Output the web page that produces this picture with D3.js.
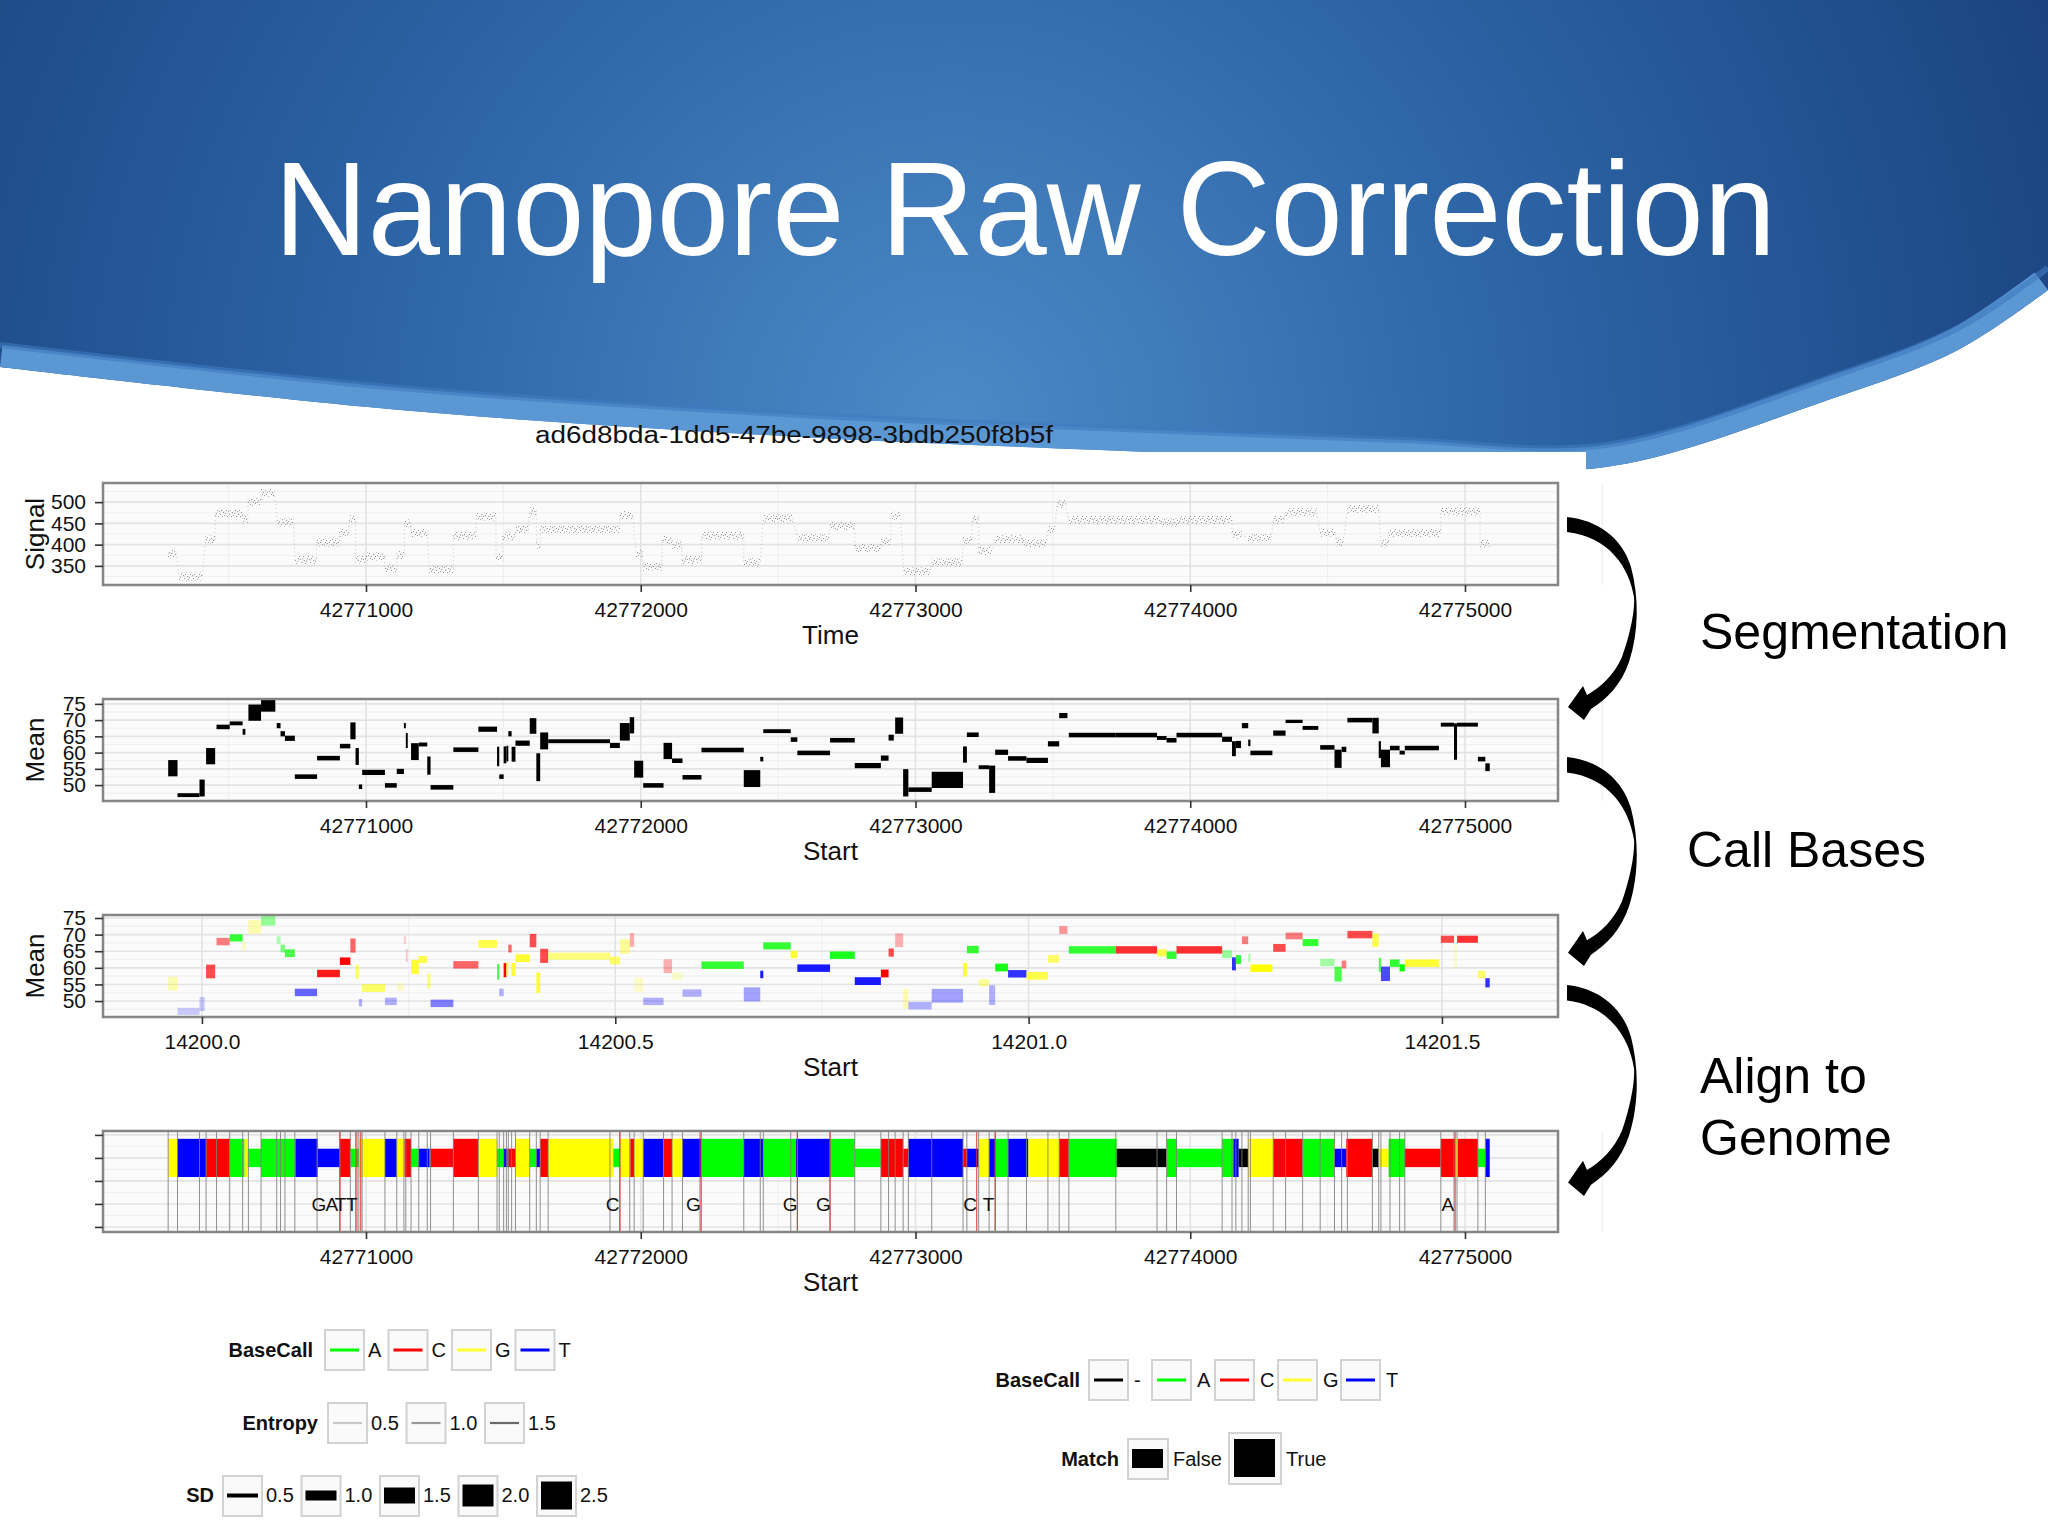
<!DOCTYPE html>
<html><head><meta charset="utf-8">
<script src="https://cdn.jsdelivr.net/npm/d3@7"></script>
<style>body{margin:0;background:#fff}svg{display:block}</style>
</head><body>
<svg id="c" width="2048" height="1536"></svg>
<script>
// ---------------- DATA ----------------
const slideTitle = "Nanopore Raw Correction";
const readId = "ad6d8bda-1dd5-47be-9898-3bdb250f8b5f";
const stepLabels = [["Segmentation"], ["Call Bases"], ["Align to", "Genome"]];

const sampleTicks = [42771000, 42772000, 42773000, 42774000, 42775000];
const sampleMinor = [42770500, 42771500, 42772500, 42773500, 42774500, 42775500];
const timeTicks = [14200.0, 14200.5, 14201.0, 14201.5];
const timeMinor = [14200.25, 14200.75, 14201.25];
const signalTicks = [350, 400, 450, 500];
const signalMinor = [325, 375, 425, 475, 525];
const meanTicks = [50, 55, 60, 65, 70, 75];
const meanMinor = [47.5, 52.5, 57.5, 62.5, 67.5, 72.5];
const alignTicks = [1, 2, 3, 4, 5];
const alignMinor = [1.5, 2.5, 3.5, 4.5];

// raw signal runs: [start, end, level]
const signalRuns = [
 [42770280,42770309,380],[42770320,42770404,325],[42770416,42770451,412],[42770451,42770551,474],
 [42770551,42770570,458],[42770570,42770618,500],[42770618,42770666,522],[42770678,42770737,452],
 [42770741,42770820,364],[42770820,42770903,405],[42770903,42770938,428],[42770938,42770962,460],
 [42770962,42770998,365],[42770998,42771069,372],[42771069,42771112,344],[42771112,42771140,376],
 [42771140,42771164,450],[42771164,42771223,427],[42771230,42771318,342],[42771318,42771401,421],
 [42771401,42771473,466],[42771473,42771496,370],[42771496,42771544,419],[42771544,42771591,435],
 [42771596,42771620,478],[42771620,42771634,400],[42771634,42771924,437],[42771924,42771971,470],
 [42771983,42772007,380],[42772007,42772078,348],[42772078,42772114,411],[42772114,42772150,400],
 [42772150,42772221,364],[42772221,42772375,421],[42772375,42772435,358],[42772446,42772553,462],
 [42772570,42772684,415],[42772689,42772779,444],[42772779,42772874,392],[42772874,42772910,407],
 [42772910,42772945,468],[42772957,42773052,337],[42773059,42773171,358],[42773173,42773206,410],
 [42773206,42773230,458],[42773230,42773278,385],[42773290,42773392,413],[42773392,42773475,403],
 [42773482,42773506,435],[42773516,42773546,496],[42773558,42773891,458],[42773891,42773962,452],
 [42773962,42774152,458],[42774152,42774188,423],[42774211,42774295,415],[42774302,42774342,458],
 [42774347,42774461,476],[42774473,42774527,428],[42774532,42774556,405],[42774572,42774686,484],
 [42774694,42774722,403],[42774722,42774912,427],[42774912,42775055,478],[42775055,42775090,402]
];

// segments: [start, end, mean, sd, baseCall, confidence]
const segments = [
 [42770280,42770314,55.2,2.5,"G",0.3],[42770314,42770394,46.9,0.6,"T",0.2],[42770394,42770413,49.1,2.6,"T",0.2],
 [42770418,42770451,58.9,2.5,"C",0.7],[42770456,42770504,67.9,0.7,"C",0.5],[42770504,42770551,69.0,0.6,"A",0.8],
 [42770551,42770561,66.4,0.9,"G",0.3],[42770572,42770618,72.3,2.5,"G",0.3],[42770618,42770670,74.4,1.8,"A",0.4],
 [42770675,42770689,68.3,0.8,"A",0.3],[42770689,42770705,65.8,0.8,"A",0.5],[42770705,42770741,64.4,0.8,"A",0.7],
 [42770741,42770822,52.6,0.7,"T",0.6],[42770822,42770905,58.3,0.7,"C",0.9],[42770905,42770943,62.0,0.7,"C",1],
 [42770943,42770962,66.7,2.6,"C",0.6],[42770962,42770974,58.8,2.6,"G",0.6],[42770974,42770986,49.5,0.7,"T",0.3],
 [42770986,42771069,53.9,0.8,"G",0.6],[42771069,42771112,49.9,0.7,"T",0.3],[42771112,42771138,54.2,0.8,"G",0.2],
 [42771138,42771145,68.3,0.8,"C",0.2],[42771145,42771152,63.7,2.3,"C",0.2],[42771164,42771192,60.3,2.6,"G",0.8],
 [42771192,42771223,62.5,0.6,"G",0.7],[42771223,42771235,56.0,2.8,"G",0.5],[42771235,42771318,49.3,0.7,"T",0.5],
 [42771318,42771409,60.9,0.7,"C",0.6],[42771409,42771477,67.2,0.8,"G",0.7],[42771477,42771485,58.8,3.0,"A",0.7],
 [42771485,42771501,52.6,0.7,"T",0.3],[42771501,42771511,59.3,2.6,"C",1],[42771511,42771518,59.7,2.4,"G",0.8],
 [42771518,42771530,65.8,0.8,"C",0.6],[42771530,42771544,59.5,2.3,"G",0.8],[42771544,42771596,62.9,0.8,"G",0.8],
 [42771596,42771620,68.2,2.4,"C",0.7],[42771620,42771634,55.5,4.3,"G",0.8],[42771634,42771663,63.6,2.6,"C",0.7],
 [42771663,42771888,63.5,0.6,"G",0.5],[42771888,42771924,62.2,0.8,"G",0.6],[42771924,42771960,66.4,2.7,"G",0.4],
 [42771960,42771976,68.4,2.5,"C",0.3],[42771976,42772009,54.9,2.6,"G",0.2],[42772009,42772083,49.9,0.7,"T",0.3],
 [42772083,42772114,60.5,2.5,"C",0.3],[42772114,42772152,57.5,0.7,"G",0.2],[42772152,42772221,52.4,0.7,"T",0.3],
 [42772221,42772375,60.8,0.7,"A",0.8],[42772375,42772435,52.0,2.6,"T",0.35],[42772435,42772446,58.0,0.7,"T",0.9],
 [42772446,42772546,66.6,0.6,"A",0.8],[42772546,42772570,64.0,0.7,"G",0.8],[42772570,42772689,59.9,0.7,"T",0.9],
 [42772689,42772779,63.8,0.7,"A",0.9],[42772779,42772874,56.0,0.8,"T",0.9],[42772874,42772902,58.3,0.8,"C",1],
 [42772902,42772921,64.6,0.9,"C",0.7],[42772926,42772955,68.3,2.5,"C",0.3],[42772955,42772974,50.7,4.2,"G",0.3],
 [42772974,42773059,48.6,0.7,"T",0.3],[42773059,42773173,51.6,2.5,"T",0.35],[42773173,42773187,59.4,2.5,"G",0.8],
 [42773187,42773230,65.5,0.7,"A",0.8],[42773230,42773268,55.5,0.6,"G",0.4],[42773268,42773290,51.8,4.2,"T",0.3],
 [42773290,42773337,60.1,0.8,"A",0.9],[42773337,42773404,58.2,0.7,"T",0.8],[42773404,42773482,57.6,0.8,"G",0.7],
 [42773482,42773523,62.7,0.8,"G",0.6],[42773523,42773553,71.4,0.8,"C",0.4],[42773558,42773729,65.4,0.7,"A",0.8],
 [42773729,42773879,65.4,0.7,"C",0.8],[42773879,42773914,64.5,0.6,"G",0.7],[42773914,42773950,63.8,0.7,"A",0.8],
 [42773950,42774116,65.4,0.7,"C",0.8],[42774116,42774152,64.1,0.8,"A",0.4],[42774152,42774166,61.2,2.3,"T",0.8],
 [42774166,42774185,62.5,1.1,"A",0.8],[42774188,42774211,68.3,0.8,"C",0.5],[42774211,42774219,63.0,1.0,"A",0.3],
 [42774219,42774299,59.9,0.7,"G",1],[42774302,42774347,66.0,0.8,"C",0.7],[42774347,42774409,69.6,0.5,"C",0.5],
 [42774409,42774466,67.6,0.6,"A",0.8],[42774473,42774525,61.6,0.7,"A",0.35],[42774525,42774551,58.1,2.8,"A",0.7],
 [42774551,42774568,61.0,0.8,"C",0.5],[42774572,42774663,70.0,0.7,"C",0.7],[42774663,42774686,68.3,2.4,"G",0.7],
 [42774686,42774694,60.9,2.6,"A",0.7],[42774694,42774727,58.2,2.7,"T",0.7],[42774727,42774762,61.4,0.7,"A",0.8],
 [42774762,42774781,60.0,0.6,"A",1],[42774781,42774905,61.4,0.7,"G",0.8],[42774912,42774960,68.6,0.6,"C",0.7],
 [42774960,42774971,63.4,5.6,"G",0.2],[42774971,42775047,68.6,0.6,"C",0.8],[42775047,42775074,58.0,0.7,"G",0.6],
 [42775074,42775090,55.5,1.2,"T",0.8]
];

// alignment to genome: [start, end, base, match]
const alignBands = [
 [42770280,42770314,"G",true],[42770314,42770418,"T",true],[42770418,42770504,"C",true],[42770504,42770558,"A",true],
 [42770558,42770570,"G",true],[42770570,42770618,"A",false],[42770618,42770743,"A",true],[42770743,42770824,"T",true],
 [42770824,42770905,"T",false],[42770905,42770943,"C",true],[42770943,42770974,"A",false],[42770974,42771069,"G",true],
 [42771069,42771112,"T",true],[42771112,42771140,"G",true],[42771140,42771164,"C",true],[42771164,42771192,"A",false],
 [42771192,42771230,"T",false],[42771230,42771318,"C",false],[42771318,42771409,"C",true],[42771409,42771477,"G",true],
 [42771477,42771501,"A",false],[42771501,42771515,"T",false],[42771515,42771544,"C",false],[42771544,42771596,"G",true],
 [42771596,42771620,"A",false],[42771620,42771634,"T",false],[42771634,42771663,"C",true],[42771663,42771900,"G",true],
 [42771900,42771924,"A",false],[42771924,42771962,"G",true],[42771962,42771976,"C",true],[42771976,42772009,"G",true],
 [42772009,42772083,"T",true],[42772083,42772114,"C",true],[42772114,42772152,"G",true],[42772152,42772221,"T",true],
 [42772221,42772375,"A",true],[42772375,42772446,"T",true],[42772446,42772565,"A",true],[42772565,42772689,"T",true],
 [42772689,42772779,"A",true],[42772779,42772874,"A",false],[42772874,42772955,"C",true],[42772955,42772974,"C",false],
 [42772974,42773173,"T",true],[42773173,42773187,"C",false],[42773187,42773230,"T",false],[42773230,42773268,"G",true],
 [42773268,42773290,"T",true],[42773290,42773337,"A",true],[42773337,42773411,"T",true],[42773411,42773523,"G",true],
 [42773523,42773558,"C",true],[42773558,42773732,"A",true],[42773732,42773914,"-",false],[42773914,42773952,"A",true],
 [42773952,42774116,"A",false],[42774116,42774157,"A",true],[42774157,42774176,"T",true],[42774176,42774211,"-",false],
 [42774211,42774302,"G",true],[42774302,42774409,"C",true],[42774409,42774525,"A",true],[42774525,42774568,"T",false],
 [42774568,42774663,"C",true],[42774663,42774686,"-",false],[42774686,42774722,"G",false],[42774722,42774781,"A",true],
 [42774781,42774912,"C",false],[42774912,42774964,"C",true],[42774964,42774974,"G",true],[42774974,42775047,"C",true],
 [42775047,42775074,"A",false],[42775074,42775090,"T",true]
];
const mismatchLines = [42770905,42770967,42770981,42771924,42772216,42772570,42772689,42773223,42773290,42774964];
const genomeLetters = [[42770829,"G"],[42770876,"A"],[42770907,"T"],[42770948,"T"],[42771898,"C"],[42772192,"G"],
 [42772544,"G"],[42772665,"G"],[42773199,"C"],[42773266,"T"],[42774938,"A"]];

// legends
const baseCallKeys = ["A","C","G","T"];
const entropyKeys = [0.5, 1.0, 1.5];
const sdKeys = [0.5, 1.0, 1.5, 2.0, 2.5];
const alignKeys = ["-","A","C","G","T"];
const matchKeys = ["False","True"];

// ---------------- STYLE / LAYOUT ----------------
const FONT = "'Liberation Sans', Arial, Helvetica, sans-serif";
const baseColor = {"-":"#000000","A":"#00ff00","C":"#ff0000","G":"#ffff00","T":"#0000ff"};
const entropyColor = d3.scaleLinear().domain([0.5,1.5]).range(["#c8c8c8","#6a6a6a"]);
const X0 = 103, X1 = 1558;
const P1 = [483,585], P2 = [699,801], P3 = [915,1017], P4 = [1131,1232];

const svg = d3.select("#c");
const defs = svg.append("defs");

// ---------------- BACKGROUND ----------------
const rg = defs.append("radialGradient").attr("id","bg").attr("gradientUnits","userSpaceOnUse")
  .attr("cx",950).attr("cy",420).attr("r",1300);
rg.append("stop").attr("offset",0).attr("stop-color","#4c89c7");
rg.append("stop").attr("offset",0.45).attr("stop-color","#2c64a5");
rg.append("stop").attr("offset",1).attr("stop-color","#173c78");

svg.append("rect").attr("width",2048).attr("height",1536).attr("fill","#fff");
const bgPts = [[0,367],[400,410],[800,437],[1100,450],[1400,462],[1606,467],[1828,400],[1958,350],[2048,290]];
const cr = d3.line().curve(d3.curveCatmullRom.alpha(0.5));
const bluePath = "M0,0H2048" + cr(bgPts.slice().reverse()).replace(/^M/,"L") + "Z";
defs.append("clipPath").attr("id","blueClip").append("path").attr("d",bluePath);
svg.append("path").attr("d",bluePath).attr("fill","url(#bg)");
svg.append("path").attr("d",cr(bgPts)).attr("fill","none").attr("stroke","#5b97d3")
  .attr("stroke-width",44).attr("clip-path","url(#blueClip)");
svg.append("path").attr("d",cr(bgPts.map(p=>[p[0],p[1]-22]))).attr("fill","none").attr("stroke","#3f7cc0")
  .attr("stroke-width",6).attr("opacity",0.6).attr("clip-path","url(#blueClip)");

svg.append("text").attr("x",274).attr("y",255).attr("fill","#fff")
  .attr("font-family",FONT).attr("font-size",133).attr("textLength",1502).attr("lengthAdjust","spacingAndGlyphs")
  .text(slideTitle);

svg.append("text").attr("x",535).attr("y",443).attr("fill","#111")
  .attr("font-family",FONT).attr("font-size",23).attr("textLength",518).attr("lengthAdjust","spacingAndGlyphs")
  .text(readId);

svg.append("rect").attr("x",0).attr("y",452).attr("width",1586).attr("height",1084).attr("fill","#fff");

// ---------------- SCALES ----------------
const xS = d3.scaleLinear().domain([42770042.8, 42775338.5]).range([X0, X1]);
const xT = d3.scaleLinear().domain([14199.8803, 14201.6404]).range([X0, X1]);
const ySig = d3.scaleLinear().domain([305,545]).range([P1[1],P1[0]]);
const yM2 = d3.scaleLinear().domain([45.1,76.5]).range([P2[1],P2[0]]);
const yM3 = d3.scaleLinear().domain([45.2,75.9]).range([P3[1],P3[0]]);
const yAl = d3.scaleLinear().domain([0.78,5.17]).range([P4[1],P4[0]]);
const sdPx2 = d3.scaleLinear().domain([0,2.5]).range([0,16.25]);
const sdPx3 = d3.scaleLinear().domain([0,2.5]).range([5,13.75]);
const matchH = d3.scaleOrdinal().domain([true,false]).range([0.83,0.4]);

// ---------------- PANEL HELPERS ----------------
function panelBg(P, x, xMaj, xMin, y, yMaj, yMin){
  const g = svg.append("g");
  g.append("rect").attr("x",X0).attr("y",P[0]).attr("width",X1-X0).attr("height",P[1]-P[0]).attr("fill","#fbfbfc");
  g.selectAll(null).data(yMin).join("line").attr("x1",X0).attr("x2",X1)
    .attr("y1",d=>y(d)).attr("y2",d=>y(d)).attr("stroke","#f0f0f2").attr("stroke-width",1.2);
  g.selectAll(null).data(xMin).join("line").attr("y1",P[0]).attr("y2",P[1])
    .attr("x1",d=>x(d)).attr("x2",d=>x(d)).attr("stroke","#f0f0f2").attr("stroke-width",1.2);
  g.selectAll(null).data(yMaj).join("line").attr("x1",X0).attr("x2",X1)
    .attr("y1",d=>y(d)).attr("y2",d=>y(d)).attr("stroke","#e3e3e6").attr("stroke-width",1.6);
  g.selectAll(null).data(xMaj).join("line").attr("y1",P[0]).attr("y2",P[1])
    .attr("x1",d=>x(d)).attr("x2",d=>x(d)).attr("stroke","#e3e3e6").attr("stroke-width",1.6);
  return g;
}
function panelBorder(P){
  svg.append("rect").attr("x",X0).attr("y",P[0]).attr("width",X1-X0).attr("height",P[1]-P[0])
    .attr("fill","none").attr("stroke","#858585").attr("stroke-width",2.5);
}
function styleAxis(g){
  g.select(".domain").remove();
  g.selectAll(".tick line").attr("stroke","#333").attr("stroke-width",1.6);
  g.selectAll(".tick text").attr("font-family",FONT).attr("font-size",21).attr("fill","#111");
}
function axes(P, x, xTicks, fmt, y, yTicks, showY, xTitle, yTitle){
  const gx = svg.append("g").attr("transform",`translate(0,${P[1]})`)
    .call(d3.axisBottom(x).tickValues(xTicks).tickFormat(fmt).tickSize(7).tickPadding(10).tickSizeOuter(0));
  styleAxis(gx);
  const gy = svg.append("g").attr("transform",`translate(${X0},0)`)
    .call(d3.axisLeft(y).tickValues(yTicks).tickFormat(showY ? d3.format("d") : "").tickSize(8).tickPadding(9).tickSizeOuter(0));
  styleAxis(gy);
  svg.append("text").attr("x",(X0+X1)/2).attr("y",P[1]+59).attr("text-anchor","middle")
    .attr("font-family",FONT).attr("font-size",26).attr("fill","#111").text(xTitle);
  if (yTitle) svg.append("text").attr("transform",`translate(44,${(P[0]+P[1])/2}) rotate(-90)`)
    .attr("text-anchor","middle").attr("font-family",FONT).attr("font-size",26).attr("fill","#111").text(yTitle);
}

// ---------------- PANEL 1: raw signal ----------------
const pat = defs.append("pattern").attr("id","noise").attr("patternUnits","userSpaceOnUse").attr("width",9).attr("height",8);
[[0,1],[2,4],[4,2],[5,6],[7,0],[8,3],[3,7],[6,4],[1,6]].forEach(p=>
  pat.append("rect").attr("x",p[0]).attr("y",p[1]).attr("width",1).attr("height",1).attr("fill","#9a9a9a"));
panelBg(P1, xS, sampleTicks, sampleMinor, ySig, signalTicks, signalMinor);
const sigPts = [];
signalRuns.forEach(r => { sigPts.push([r[0], r[2]]); sigPts.push([r[1], r[2]]); });
svg.append("path").attr("d", d3.line().x(d=>xS(d[0])).y(d=>ySig(d[1]))(sigPts))
  .attr("fill","none").attr("stroke","#c4c4c4").attr("stroke-width",1).attr("stroke-dasharray","1,3");
svg.append("g").selectAll("rect").data(signalRuns).join("rect")
  .attr("x",d=>xS(d[0])).attr("width",d=>xS(d[1])-xS(d[0]))
  .attr("y",d=>ySig(d[2])-4).attr("height",8).attr("fill","url(#noise)");
panelBorder(P1);
axes(P1, xS, sampleTicks, d3.format("d"), ySig, signalTicks, true, "Time", "Signal");

// ---------------- PANEL 2: segment means ----------------
panelBg(P2, xS, sampleTicks, sampleMinor, yM2, meanTicks, meanMinor);
svg.append("g").selectAll("rect").data(segments).join("rect")
  .attr("x",d=>xS(d[0])).attr("width",d=>Math.max(1.5,xS(d[1])-xS(d[0])))
  .attr("y",d=>yM2(d[2])-sdPx2(d[3])/2).attr("height",d=>sdPx2(d[3])).attr("fill","#000");
panelBorder(P2);
axes(P2, xS, sampleTicks, d3.format("d"), yM2, meanTicks, true, "Start", "Mean");

// ---------------- PANEL 3: base calls ----------------
panelBg(P3, xT, timeTicks, timeMinor, yM3, meanTicks, meanMinor);
svg.append("g").selectAll("rect").data(segments).join("rect")
  .attr("x",d=>xS(d[0])).attr("width",d=>Math.max(1.5,xS(d[1])-xS(d[0])))
  .attr("y",d=>yM3(d[2])-sdPx3(d[3])/2).attr("height",d=>sdPx3(d[3]))
  .attr("fill",d=>baseColor[d[4]]).attr("fill-opacity",d=>d[5]);
panelBorder(P3);
axes(P3, xT, timeTicks, d3.format(".1f"), yM3, meanTicks, true, "Start", "Mean");

// ---------------- PANEL 4: alignment ----------------
panelBg(P4, xS, sampleTicks, sampleMinor, yAl, alignTicks, alignMinor);
svg.append("g").selectAll("rect").data(alignBands).join("rect")
  .attr("x",d=>xS(d[0])).attr("width",d=>xS(d[1])-xS(d[0]))
  .attr("y",d=>yAl(4+matchH(d[3]))).attr("height",d=>yAl(4-matchH(d[3]))-yAl(4+matchH(d[3])))
  .attr("fill",d=>baseColor[d[2]]);
svg.append("g").selectAll("line").data(segments).join("line")
  .attr("x1",d=>xS(d[0])).attr("x2",d=>xS(d[0])).attr("y1",P4[0]).attr("y2",P4[1])
  .attr("stroke","#7e7e7e").attr("stroke-width",1).attr("opacity",0.85);
svg.append("g").selectAll("line").data(mismatchLines).join("line")
  .attr("x1",d=>xS(d)).attr("x2",d=>xS(d)).attr("y1",P4[0]).attr("y2",P4[1])
  .attr("stroke","#e03030").attr("stroke-width",1);
svg.append("g").selectAll("text").data(genomeLetters).join("text")
  .attr("x",d=>xS(d[0])).attr("y",yAl(2)+7).attr("text-anchor","middle")
  .attr("font-family",FONT).attr("font-size",19).attr("fill","#111").text(d=>d[1]);
panelBorder(P4);
axes(P4, xS, sampleTicks, d3.format("d"), yAl, alignTicks, false, "Start", null);

// ---------------- ARROWS ----------------
function arrowPath(x0,y0,k){
  const p = (dx,dy)=>`${x0+dx},${y0+dy*k}`;
  return `M${p(0,0)} C${p(30,3)} ${p(55,20)} ${p(64,50)}`+
    ` C${p(72,80)} ${p(72,115)} ${p(62,145)}`+
    ` C${p(54,168)} ${p(40,182)} ${p(24,192)}`+
    ` L${p(17,203)} L${p(1,190)} L${p(16,169)} L${p(20,178)}`+
    ` C${p(34,170)} ${p(47,158)} ${p(55,140)}`+
    ` C${p(64,115)} ${p(68,92)} ${p(67,80)}`+
    ` C${p(62,50)} ${p(42,20)} ${p(0,15)} Z`;
}
[[517,1.0],[757,1.03],[985,1.04]].forEach(a => svg.append("path").attr("d",arrowPath(1567,a[0],a[1])).attr("fill","#000"));

// step labels
const stepPos = [[1700,649],[1687,867],[1700,1093]];
stepLabels.forEach((lines,i)=>{
  lines.forEach((t,j)=> svg.append("text").attr("x",stepPos[i][0]).attr("y",stepPos[i][1]+j*62)
    .attr("font-family",FONT).attr("font-size",50).attr("fill","#000").text(t));
});

// ---------------- LEGENDS ----------------
function keyBox(x,y,w,h){
  svg.append("rect").attr("x",x).attr("y",y).attr("width",w).attr("height",h)
    .attr("fill","#fafafa").attr("stroke","#d2d2d2").attr("stroke-width",2);
}
function ltext(x,y,t,bold,anchor){
  svg.append("text").attr("x",x).attr("y",y+7).attr("text-anchor",anchor||"start")
    .attr("font-family",FONT).attr("font-size",20).attr("font-weight",bold?"bold":"normal")
    .attr("fill","#111").text(t);
}
// BaseCall (left)
ltext(313,1350,"BaseCall",true,"end");
baseCallKeys.forEach((k,i)=>{ const x=325+i*63.5; keyBox(x,1330,39,40);
  svg.append("line").attr("x1",x+5).attr("x2",x+34).attr("y1",1350).attr("y2",1350)
    .attr("stroke",baseColor[k]==="#ffff00"?"#ffff33":baseColor[k]).attr("stroke-width",3);
  ltext(x+43,1350,k); });
// Entropy
ltext(318,1423,"Entropy",true,"end");
entropyKeys.forEach((k,i)=>{ const x=328+i*78.5; keyBox(x,1403,39,40);
  svg.append("line").attr("x1",x+5).attr("x2",x+34).attr("y1",1423).attr("y2",1423)
    .attr("stroke",entropyColor(k)).attr("stroke-width",2.2);
  ltext(x+43,1423,d3.format(".1f")(k)); });
// SD
const sdLeg = d3.scaleLinear().domain([0.5,2.5]).range([4,28]);
ltext(214,1495,"SD",true,"end");
sdKeys.forEach((k,i)=>{ const x=223+i*78.5; keyBox(x,1476,39,40);
  svg.append("rect").attr("x",x+4).attr("width",31).attr("y",1495.5-sdLeg(k)/2).attr("height",sdLeg(k)).attr("fill","#000");
  ltext(x+43,1495,d3.format(".1f")(k)); });
// BaseCall (right)
ltext(1080,1380,"BaseCall",true,"end");
alignKeys.forEach((k,i)=>{ const x=1089+i*63; keyBox(x,1360,39,40);
  svg.append("line").attr("x1",x+5).attr("x2",x+34).attr("y1",1380).attr("y2",1380)
    .attr("stroke",baseColor[k]==="#ffff00"?"#ffff33":baseColor[k]).attr("stroke-width",3);
  ltext(x+45,1380,k); });
// Match
ltext(1119,1459,"Match",true,"end");
keyBox(1128,1439,40,40);
svg.append("rect").attr("x",1132).attr("y",1449).attr("width",31).attr("height",19).attr("fill","#000");
ltext(1173,1459,matchKeys[0]);
keyBox(1229,1433,52,51);
svg.append("rect").attr("x",1234).attr("y",1439).attr("width",41).attr("height",38).attr("fill","#000");
ltext(1286,1459,matchKeys[1]);
</script>
</body></html>
